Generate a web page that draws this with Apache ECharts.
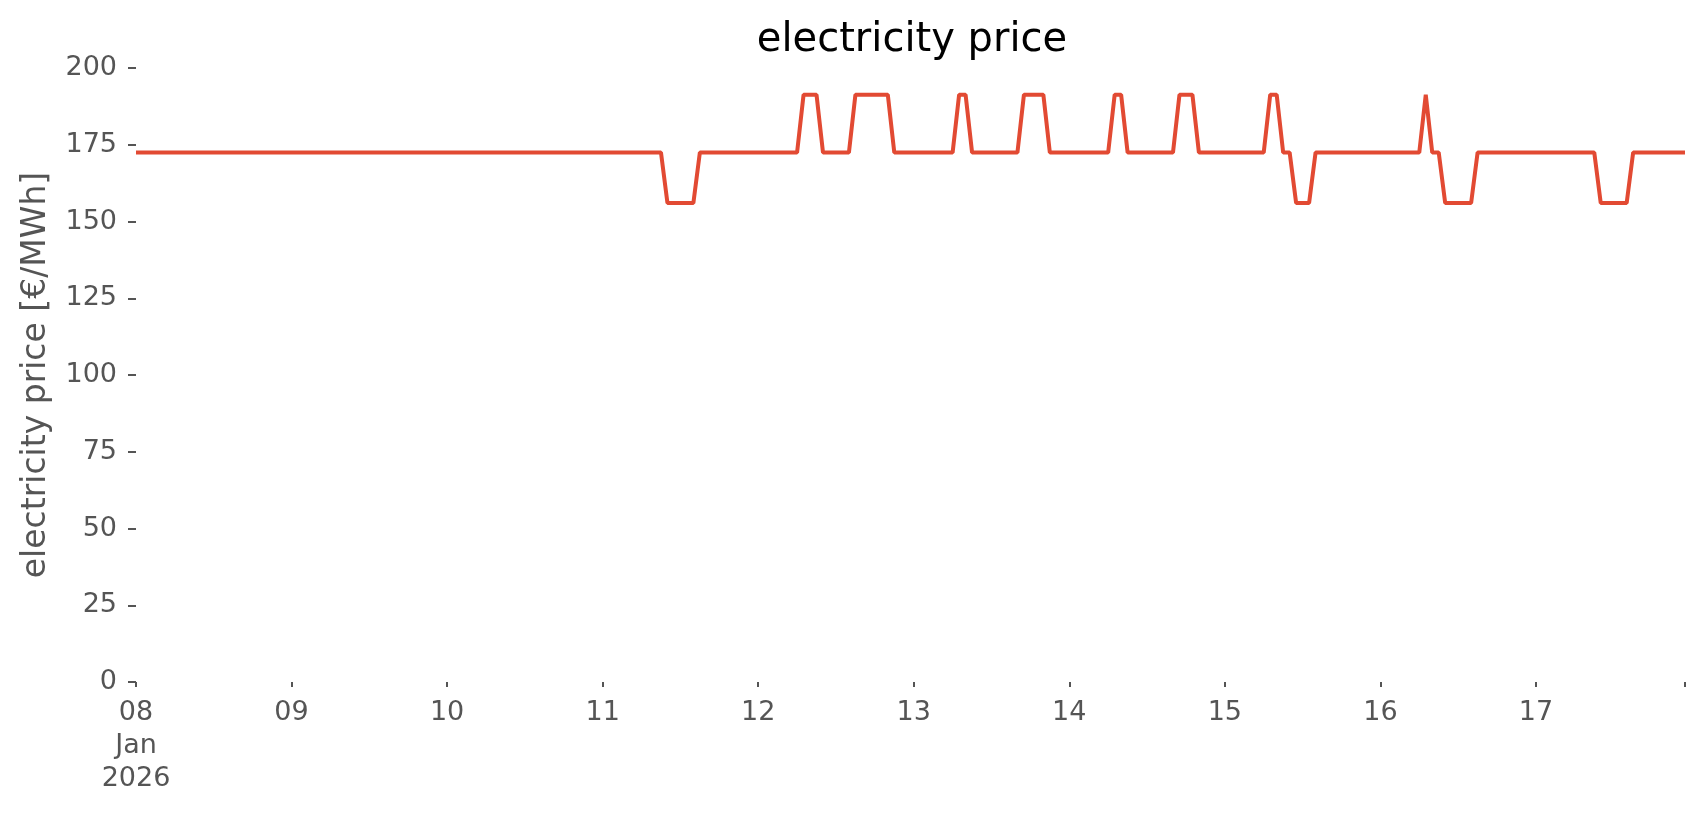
<!DOCTYPE html>
<html>
<head>
<meta charset="utf-8">
<title>electricity price</title>
<script src="https://cdn.jsdelivr.net/npm/echarts@6/dist/echarts.min.js"></script>
<style>
  html, body { margin: 0; padding: 0; background: #fff; }
  #chart { width: 1706px; height: 815px; }
</style>
</head>
<body>
<div id="chart"></div>
<script>
// hourly prices, one array per day (00:00 .. 23:00), in €/MWh
const jan08 = [172.5,172.5,172.5,172.5,172.5,172.5,172.5,172.5,172.5,172.5,172.5,172.5,172.5,172.5,172.5,172.5,172.5,172.5,172.5,172.5,172.5,172.5,172.5,172.5];
const jan09 = [172.5,172.5,172.5,172.5,172.5,172.5,172.5,172.5,172.5,172.5,172.5,172.5,172.5,172.5,172.5,172.5,172.5,172.5,172.5,172.5,172.5,172.5,172.5,172.5];
const jan10 = [172.5,172.5,172.5,172.5,172.5,172.5,172.5,172.5,172.5,172.5,172.5,172.5,172.5,172.5,172.5,172.5,172.5,172.5,172.5,172.5,172.5,172.5,172.5,172.5];
const jan11 = [172.5,172.5,172.5,172.5,172.5,172.5,172.5,172.5,172.5,172.5,156.0,156.0,156.0,156.0,156.0,172.5,172.5,172.5,172.5,172.5,172.5,172.5,172.5,172.5];
const jan12 = [172.5,172.5,172.5,172.5,172.5,172.5,172.5,191.3,191.3,191.3,172.5,172.5,172.5,172.5,172.5,191.3,191.3,191.3,191.3,191.3,191.3,172.5,172.5,172.5];
const jan13 = [172.5,172.5,172.5,172.5,172.5,172.5,172.5,191.3,191.3,172.5,172.5,172.5,172.5,172.5,172.5,172.5,172.5,191.3,191.3,191.3,191.3,172.5,172.5,172.5];
const jan14 = [172.5,172.5,172.5,172.5,172.5,172.5,172.5,191.3,191.3,172.5,172.5,172.5,172.5,172.5,172.5,172.5,172.5,191.3,191.3,191.3,172.5,172.5,172.5,172.5];
const jan15 = [172.5,172.5,172.5,172.5,172.5,172.5,172.5,191.3,191.3,172.5,172.5,156.0,156.0,156.0,172.5,172.5,172.5,172.5,172.5,172.5,172.5,172.5,172.5,172.5];
const jan16 = [172.5,172.5,172.5,172.5,172.5,172.5,172.5,191.3,172.5,172.5,156.0,156.0,156.0,156.0,156.0,172.5,172.5,172.5,172.5,172.5,172.5,172.5,172.5,172.5];
const jan17 = [172.5,172.5,172.5,172.5,172.5,172.5,172.5,172.5,172.5,172.5,156.0,156.0,156.0,156.0,156.0,172.5,172.5,172.5,172.5,172.5,172.5,172.5,172.5,172.5];
const days = ["08", "09", "10", "11", "12", "13", "14", "15", "16", "17"];
const yTicks = [0, 25, 50, 75, 100, 125, 150, 175, 200];

const price = [].concat(jan08, jan09, jan10, jan11, jan12, jan13, jan14, jan15, jan16, jan17);

// category per hour: "2026-01-DD HH:00"
const hours = [];
days.forEach(function (d) {
  for (let h = 0; h < 24; h++) {
    hours.push("2026-01-" + d + " " + (h < 10 ? "0" + h : h) + ":00");
  }
});

const grey = "#555555";
const font = "DejaVu Sans";

const chart = echarts.init(document.getElementById("chart"), null, { renderer: "canvas" });
chart.setOption({
  animation: false,
  backgroundColor: "#ffffff",
  title: {
    text: "electricity price",
    left: 907,          // centred over the plot area, not the page
    textAlign: "center",
    top: 16,
    textStyle: { fontFamily: font, fontSize: 40, fontWeight: "normal", color: "#000" }
  },
  grid: { left: 136, right: 21, top: 68, bottom: 133 },
  xAxis: {
    type: "category",
    data: hours,
    boundaryGap: false,
    axisLine: { show: false },
    axisTick: {
      show: true,
      length: 5,
      interval: function (i) { return i % 24 === 0 || i === hours.length - 1; },
      lineStyle: { color: grey, width: 2 }
    },
    axisLabel: {
      interval: function (i) { return i % 24 === 0; },
      margin: 14,
      fontFamily: font,
      fontSize: 27,
      lineHeight: 33,
      color: grey,
      formatter: function (v, i) {
        const d = v.slice(8, 10);
        return i === 0 ? d + "\nJan\n2026" : d;
      }
    },
    splitLine: { show: false }
  },
  yAxis: {
    type: "value",
    min: yTicks[0],
    max: yTicks[yTicks.length - 1],
    interval: 25,
    name: "electricity price [€/MWh]",
    nameLocation: "middle",
    nameGap: 83,
    nameTextStyle: { fontFamily: font, fontSize: 33, color: grey },
    axisLine: { show: false },
    axisTick: { show: true, length: 8, lineStyle: { color: grey, width: 2 } },
    axisLabel: { margin: 19, fontFamily: font, fontSize: 27, color: grey },
    splitLine: { show: false }
  },
  series: [{
    type: "line",
    data: price,
    showSymbol: false,
    lineStyle: { color: "#E24A33", width: 4 },
    itemStyle: { color: "#E24A33" }
  }]
});
</script>
</body>
</html>
